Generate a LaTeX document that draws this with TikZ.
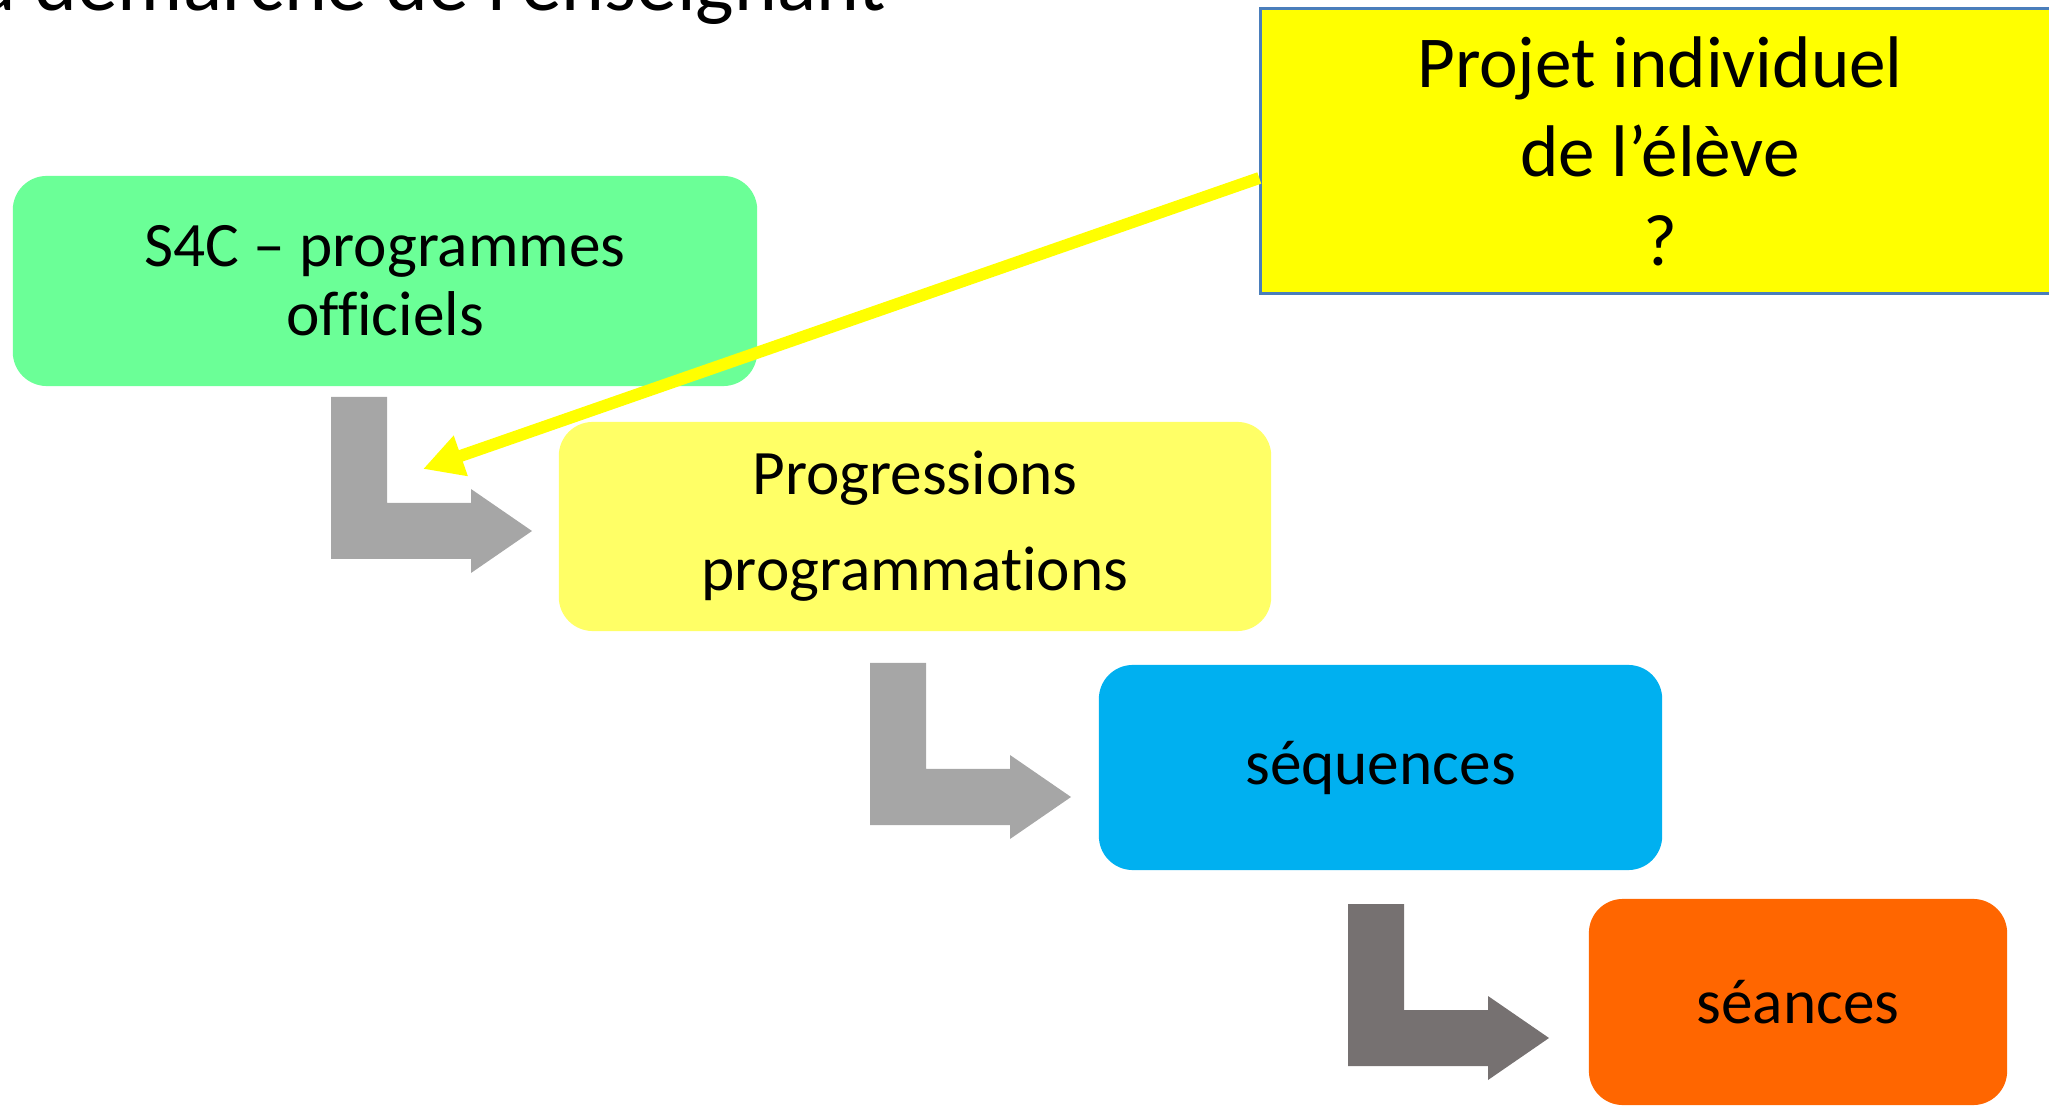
\documentclass[tikz,border=0pt]{standalone}
\usepackage{fontspec}
\setmainfont{Carlito}[Ligatures=NoCommon]
\usetikzlibrary{arrows.meta}
\tikzset{>=latex}
\definecolor{vertoff}{HTML}{6BFF97}
\definecolor{jaunepale}{HTML}{FFFF66}
\definecolor{jaunevif}{HTML}{FFFF00}
\definecolor{bleuseq}{HTML}{00B0F0}
\definecolor{orangesea}{HTML}{FF6600}
\definecolor{grisclair}{HTML}{A6A6A6}
\definecolor{grisfonce}{HTML}{767171}
\definecolor{bordproj}{HTML}{4A7EBB}
\tikzstyle{etape}=[rounded corners=0.34cm,inner sep=0,align=center,
  font=\fontsize{18}{19.6}\selectfont]
\tikzstyle{coude}=[fill=grisclair]
\tikzstyle{fleche}=[-{Triangle[length=0.4cm,width=0.4cm]},line width=0.12cm,jaunevif]

\begin{document}
\begin{tikzpicture}[x=0.01cm,y=-0.01cm]
  \useasboundingbox (0,0) rectangle (2049,1107);
  \clip (0,0) rectangle (2049,1107);
  \def\ep{56}
  \def\bas{162}
  \coordinate (c1) at (331,397);
  \coordinate (c2) at (870,663);
  \coordinate (c3) at (1348,904);
  \coordinate (pointe) at (423,469);

  % titre
  \node[anchor=base west,inner sep=0,font=\fontsize{23.2}{23.2}\selectfont] (titre)
    at (-58,11) {La démarche de l’enseignant};

  % etapes
  \node[etape,fill=vertoff,minimum width=7.44cm,minimum height=2.10cm] (offi)
    at (385,281) {S4C – programmes\\officiels};
  \node[etape,fill=jaunepale,minimum width=7.12cm,minimum height=2.09cm,
    font=\fontsize{18}{27.3}\selectfont] (prog)
    at (915,526.5) {Progressions\\programmations};
  \node[etape,fill=bleuseq,minimum width=5.63cm,minimum height=2.05cm] (seq)
    at (1380.5,767.5) {séquences};
  \node[etape,fill=orangesea,minimum width=4.18cm,minimum height=2.06cm] (sea)
    at (1798,1002) {séances};

  % projet
  \node[draw=bordproj,line width=0.03cm,fill=jaunevif,inner sep=0,align=center,
    minimum width=7.98cm,minimum height=2.84cm,
    font=\fontsize{20.8}{25.3}\selectfont] (proj)
    at (1660,151) {Projet individuel\\de l’élève\\?};

  % coudes
  \begin{scope}[shift={(c1)}]
    \fill[coude] (0,0) -- (\ep,0) -- (\ep,106) -- (140,106) -- (140,92) --
      (201,134) -- (140,176) -- (140,\bas) -- (0,\bas) -- cycle;
  \end{scope}
  \begin{scope}[shift={(c2)}]
    \fill[coude] (0,0) -- (\ep,0) -- (\ep,106) -- (140,106) -- (140,92) --
      (201,134) -- (140,176) -- (140,\bas) -- (0,\bas) -- cycle;
  \end{scope}
  \begin{scope}[shift={(c3)}]
    \fill[coude,grisfonce] (0,0) -- (\ep,0) -- (\ep,106) -- (140,106) -- (140,92) --
      (201,134) -- (140,176) -- (140,\bas) -- (0,\bas) -- cycle;
  \end{scope}

  \draw[fleche] ([yshift=-0.27cm]proj.west) -- (pointe);
\end{tikzpicture}
\end{document}
